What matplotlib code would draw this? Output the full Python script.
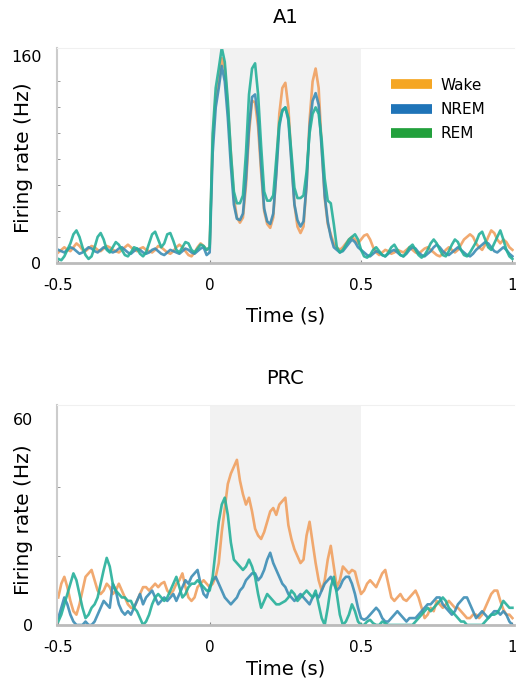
import numpy as np
import matplotlib
matplotlib.use('Agg')
import matplotlib.pyplot as plt
from matplotlib.lines import Line2D

# time axis: -0.5 .. 1.0 s in 10 ms bins
t_start = -0.5
t_step = 0.01

# A1 firing rates (Hz)
a1_wake = [8, 10, 12, 10, 9, 12, 15, 13, 10, 9,
           11, 13, 12, 10, 9, 11, 13, 12, 10, 9,
           8, 10, 12, 14, 12, 10, 9, 11, 12, 10,
           9, 8, 10, 13, 12, 10, 8, 7, 9, 12,
           14, 12, 9, 6, 5, 8, 12, 15, 13, 10,
           12, 95, 128, 140, 158, 150, 120, 85, 50, 35,
           31, 35, 60, 100, 125, 124, 105, 70, 40, 30,
           27, 35, 70, 115, 135, 139, 120, 80, 45, 28,
           23, 28, 60, 110, 140, 150, 135, 90, 50, 30,
           22, 15, 12, 10, 12, 15, 18, 20, 18, 15,
           18, 21, 22, 18, 12, 8, 6, 8, 10, 9,
           7, 8, 10, 9, 8, 10, 12, 10, 8, 7,
           9, 11, 12, 10, 8, 6, 5, 7, 10, 12,
           10, 8, 10, 14, 18, 20, 22, 20, 15, 12,
           10, 14, 20, 25, 23, 18, 15, 18, 16, 12,
           10]
a1_nrem = [10, 9, 8, 10, 12, 11, 9, 7, 8, 10,
           12, 11, 9, 8, 10, 12, 11, 9, 8, 9,
           11, 12, 10, 8, 7, 9, 11, 10, 8, 7,
           8, 10, 11, 9, 7, 6, 8, 10, 9, 8,
           7, 9, 11, 10, 8, 7, 9, 11, 12, 6,
           8, 85, 120, 135, 152, 140, 112, 75, 45, 34,
           33, 38, 65, 105, 128, 130, 112, 75, 42, 32,
           30, 38, 68, 105, 118, 120, 110, 78, 45, 33,
           28, 32, 60, 105, 125, 131, 122, 88, 52, 32,
           20, 12, 10, 8, 9, 12, 15, 18, 16, 12,
           10, 8, 6, 5, 7, 9, 8, 6, 5, 7,
           9, 10, 8, 6, 5, 7, 10, 12, 11, 8,
           6, 5, 7, 9, 12, 14, 12, 9, 7, 6,
           8, 10, 12, 10, 8, 6, 5, 7, 10, 12,
           14, 16, 15, 12, 9, 8, 10, 12, 10, 7,
           5]
a1_rem = [3, 2, 5, 10, 15, 22, 25, 20, 12, 6,
          3, 5, 12, 20, 23, 18, 10, 8, 12, 16,
          14, 10, 6, 5, 8, 12, 11, 7, 5, 8,
          15, 22, 24, 18, 12, 15, 22, 23, 17, 10,
          8, 12, 16, 15, 10, 8, 11, 14, 13, 10,
          12, 100, 135, 150, 166, 155, 125, 85, 55, 46,
          46, 52, 85, 130, 150, 154, 130, 90, 55, 48,
          48, 52, 80, 108, 117, 120, 112, 85, 58, 50,
          50, 52, 70, 100, 115, 120, 115, 95, 65, 48,
          46, 30, 12, 8, 10, 14, 18, 20, 22, 18,
          10, 5, 4, 6, 10, 12, 9, 6, 5, 8,
          12, 14, 10, 6, 5, 8, 12, 14, 10, 6,
          4, 6, 10, 15, 18, 15, 10, 6, 5, 9,
          14, 18, 16, 10, 6, 5, 8, 12, 16, 22,
          24, 18, 12, 10, 15, 20, 25, 18, 10, 5,
          3]

# PRC firing rates (Hz)
prc_wake = [8, 12, 14, 11, 7, 4, 3, 6, 10, 14,
            15, 16, 13, 10, 9, 10, 12, 11, 9, 10,
            12, 10, 8, 6, 5, 5, 7, 9, 11, 11,
            10, 11, 12, 11, 12, 12.5, 10, 9, 10, 12,
            13, 15, 11, 8, 7, 8, 11, 12, 13, 12,
            11, 12, 14, 18, 27, 34, 41, 44, 46, 48,
            42, 38, 35, 37, 33, 28, 26, 25, 27, 30,
            33, 34, 32, 35, 36, 37, 29, 25, 22, 20,
            18, 19, 26, 30, 24, 18, 13, 10, 13, 19,
            23, 17, 11, 13, 17, 16, 15, 16, 15.5, 12,
            9, 10, 12, 13, 12, 11, 13, 15, 16, 12,
            8, 7, 8, 9, 7.5, 7, 8, 9, 10, 8,
            5, 2, 3, 5, 4, 7, 6, 5, 6, 7,
            6, 5, 5, 4, 3, 2, 2, 3, 3, 2,
            3, 5, 7, 9, 10, 10, 7, 4.5, 3, 3,
            2]
prc_nrem = [2, 5, 8, 6, 3, 1, 0, 0, 0, 1,
            0, 0, 1, 3, 5, 7, 6, 5, 12, 10,
            6, 4, 3, 4, 3, 5, 7, 9, 6, 8,
            9, 10, 8, 6, 7, 8, 7, 8, 9, 7,
            9, 11, 13, 12, 14, 15, 16, 12, 9, 8,
            11, 13, 14, 12, 10, 8, 7, 6, 7, 8,
            10, 11, 13, 14, 15, 15, 13, 14, 16, 19,
            21, 18, 16, 14, 12, 11, 9, 8, 7, 8,
            9, 8, 7, 6, 8, 9, 8, 10, 12, 13,
            14, 12, 10, 11, 13, 14, 14, 12, 9, 5,
            2, 1.5, 2, 3, 4, 5, 4, 2, 1, 1,
            2, 3, 4, 3, 2, 1, 2, 2, 2, 3,
            4, 5, 6, 6, 7, 8, 8, 6, 5, 4,
            3, 4, 6, 7, 8, 8, 6, 4, 2, 3,
            4, 3, 2, 3, 4, 4, 3, 4, 3, 1,
            0]
prc_rem = [1, 3, 6, 9, 12, 15, 13, 9, 5, 2,
           3, 5, 6, 8, 12, 16, 19.5, 17, 12, 10,
           9, 8, 8, 7, 7, 5, 4, 2, 0, 1,
           3, 6, 8, 9, 8, 7, 8, 10, 12, 14,
           11, 8, 9, 11, 12, 12, 13, 12, 11, 10,
           10, 14, 22, 30, 35, 37, 32, 24, 19, 18,
           17, 16, 17, 19, 17, 14, 9, 5, 7, 9,
           8, 7, 6, 6, 6.5, 7, 8, 10, 9, 7,
           8, 9, 10, 9, 8, 10, 6, 2, 0, 5,
           11, 14, 9, 3, 0, 1, 3, 6, 4, 1,
           0, 0, 1, 1.5, 0.5, 0, 0, 1, 0.5, 0,
           0, 0, 0, 0, 0, 0, 0, 0, 1, 2,
           3, 4, 5, 4, 5, 6, 7, 8, 7, 5,
           4, 3, 2, 1, 1, 0, 0, 0, 0, 0,
           0, 1, 2, 3, 3, 3.5, 5, 7, 6, 5,
           5]

states = ['Wake', 'NREM', 'REM']
legend_colors = ['#f5a623', '#1f74b8', '#22a03c']
line_colors = ['#f0a060', '#3c8db5', '#26b09a']

panels = [
    ('A1', [a1_wake, a1_nrem, a1_rem], 166, [0, 160], [20, 40, 60, 80, 100, 120, 140]),
    ('PRC', [prc_wake, prc_nrem, prc_rem], 64, [0, 60], [20, 40]),
]

fig = plt.figure(figsize=(5.16, 6.88), dpi=100)
axes = [fig.add_axes([0.110, 0.618, 0.886, 0.3125]),
        fig.add_axes([0.110, 0.0916, 0.886, 0.320])]

for ax, (name, series, ytop, yticks, yminor) in zip(axes, panels):
    top = name == 'A1'
    ax.axvspan(0, 0.5, color='#f2f2f2', lw=0, zorder=0)
    for vals, col in zip(series, line_colors):
        tt = t_start + t_step * np.arange(len(vals))
        ax.plot(tt, vals, color=col, lw=1.9, alpha=0.9, zorder=2)

    ax.set_xlim(-0.505, 1.005)
    ax.set_ylim(0, ytop)
    ax.set_xticks([-0.5, 0, 0.5, 1])
    ax.set_xticklabels(['-0.5', '0', '0.5', '1'])
    ax.set_yticks(yticks)
    ax.set_yticks(yminor, minor=True)
    ax.tick_params(axis='x', direction='in', length=2, color='#888888',
                   labelsize=11, pad=11)
    ax.tick_params(axis='y', which='major', length=0, labelsize=11.5,
                   pad=11 if top else 17)
    ax.tick_params(axis='y', which='minor', direction='in', length=2,
                   color='#888888')

    ax.spines['right'].set_visible(False)
    ax.spines['top'].set_color('#f0f0f0')
    ax.spines['left'].set_color('#cccccc')
    ax.spines['left'].set_linewidth(1.5)
    ax.spines['bottom'].set_color('#bbbbbb')
    ax.spines['bottom'].set_linewidth(2)

    ax.set_xlabel('Time (s)', fontsize=14, labelpad=10 if top else 3)
    ax.set_ylabel('Firing rate (Hz)', fontsize=14.5)
    ax.yaxis.set_label_coords(-0.052, 0.49 if top else 0.477)
    ax.set_title(name, fontsize=14, pad=18 if top else 15)

handles = [Line2D([0], [0], color=c, lw=7, solid_capstyle='butt') for c in legend_colors]
axes[0].legend(handles, states, loc='upper left', bbox_to_anchor=(0.7, 0.925),
               frameon=False, fontsize=11, handlelength=2.7, handletextpad=0.6,
               labelspacing=0.6)

plt.savefig('out.png', dpi=100)
